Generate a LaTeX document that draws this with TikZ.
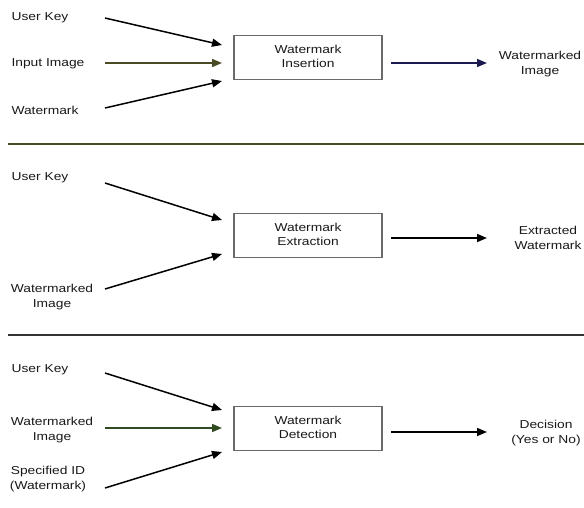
\documentclass[tikz,border=0pt]{standalone}
\usepackage{fontspec}
\setmainfont{Liberation Sans}
\usetikzlibrary{arrows.meta}
\newcommand{\wtxt}[1]{\scalebox{1.2}[1.0]{\begin{tabular}{@{}c@{}}#1\end{tabular}}}
\definecolor{olivedk}{HTML}{4A4A25}
\definecolor{navydk}{HTML}{1A1A50}
\definecolor{greendk}{HTML}{2F4A20}
\definecolor{boxgray}{HTML}{6A6A6A}
\tikzset{
  lbl/.style={inner sep=0pt, text=black!90, font=\fontsize{11.5}{15}\selectfont},
  procbox/.style={draw=boxgray, line width=1.2pt, minimum width=148pt, minimum height=44pt, inner sep=0pt, text=black!90, font=\fontsize{11.5}{14.5}\selectfont},
  arr/.style={line width=1.5pt, -{Triangle[length=10pt,width=8pt]}},
  divider/.style={line width=2pt, draw=olivedk}
}
\begin{document}
\begin{tikzpicture}[x=1pt,y=-1pt]
\useasboundingbox (0,0) rectangle (584,507);
% ---------- panel 1
\node[lbl] (k1) at (40,17) {\wtxt{User Key}};
\node[lbl] (i1) at (48,63) {\wtxt{Input Image}};
\node[lbl] (w1) at (45,111) {\wtxt{Watermark}};
\node[procbox] (b1) at (308,57.5) {\wtxt{Watermark\\Insertion}};
\node[lbl] (o1) at (540,64) {\wtxt{Watermarked\\Image}};
\coordinate (k1s) at (105,18);
\coordinate (k1e) at (222,45);
\coordinate (i1s) at (105,63);
\coordinate (i1e) at (222,63);
\coordinate (w1s) at (105,108);
\coordinate (w1e) at (222,81);
\coordinate (o1s) at (391,63);
\coordinate (o1e) at (487,63);
\draw[arr] (k1s) -- (k1e);
\draw[arr, draw=olivedk] (i1s) -- (i1e);
\draw[arr] (w1s) -- (w1e);
\draw[arr, draw=navydk] (o1s) -- (o1e);
% divider
\coordinate (d1a) at (8,144);
\coordinate (d1b) at (584,144);
\draw[divider] (d1a) -- (d1b);
% ---------- panel 2
\node[lbl] (k2) at (40,177) {\wtxt{User Key}};
\node[lbl] (w2) at (52,297) {\wtxt{Watermarked\\Image}};
\node[procbox] (b2) at (308,235.5) {\wtxt{Watermark\\Extraction}};
\node[lbl] (o2) at (548,238.5) {\wtxt{Extracted\\Watermark}};
\coordinate (k2s) at (105,183);
\coordinate (k2e) at (222,220);
\coordinate (w2s) at (105,289);
\coordinate (w2e) at (222,254);
\coordinate (o2s) at (391,238);
\coordinate (o2e) at (487,238);
\draw[arr] (k2s) -- (k2e);
\draw[arr] (w2s) -- (w2e);
\draw[arr] (o2s) -- (o2e);
% divider
\coordinate (d2a) at (8,335);
\coordinate (d2b) at (584,335);
\draw[divider, draw=black!80] (d2a) -- (d2b);
% ---------- panel 3
\node[lbl] (k3) at (40,369) {\wtxt{User Key}};
\node[lbl] (w3) at (52,429.5) {\wtxt{Watermarked\\Image}};
\node[lbl] (s3) at (48,478.5) {\wtxt{Specified ID\\(Watermark)}};
\node[procbox] (b3) at (308,428.5) {\wtxt{Watermark\\Detection}};
\node[lbl] (o3) at (546,432.5) {\wtxt{Decision\\(Yes or No)}};
\coordinate (k3s) at (105,373);
\coordinate (k3e) at (222,410);
\coordinate (w3s) at (105,428);
\coordinate (w3e) at (222,428);
\coordinate (s3s) at (105,488);
\coordinate (s3e) at (222,452);
\coordinate (o3s) at (391,432);
\coordinate (o3e) at (487,432);
\draw[arr] (k3s) -- (k3e);
\draw[arr, draw=greendk] (w3s) -- (w3e);
\draw[arr] (s3s) -- (s3e);
\draw[arr] (o3s) -- (o3e);
\end{tikzpicture}
\end{document}
